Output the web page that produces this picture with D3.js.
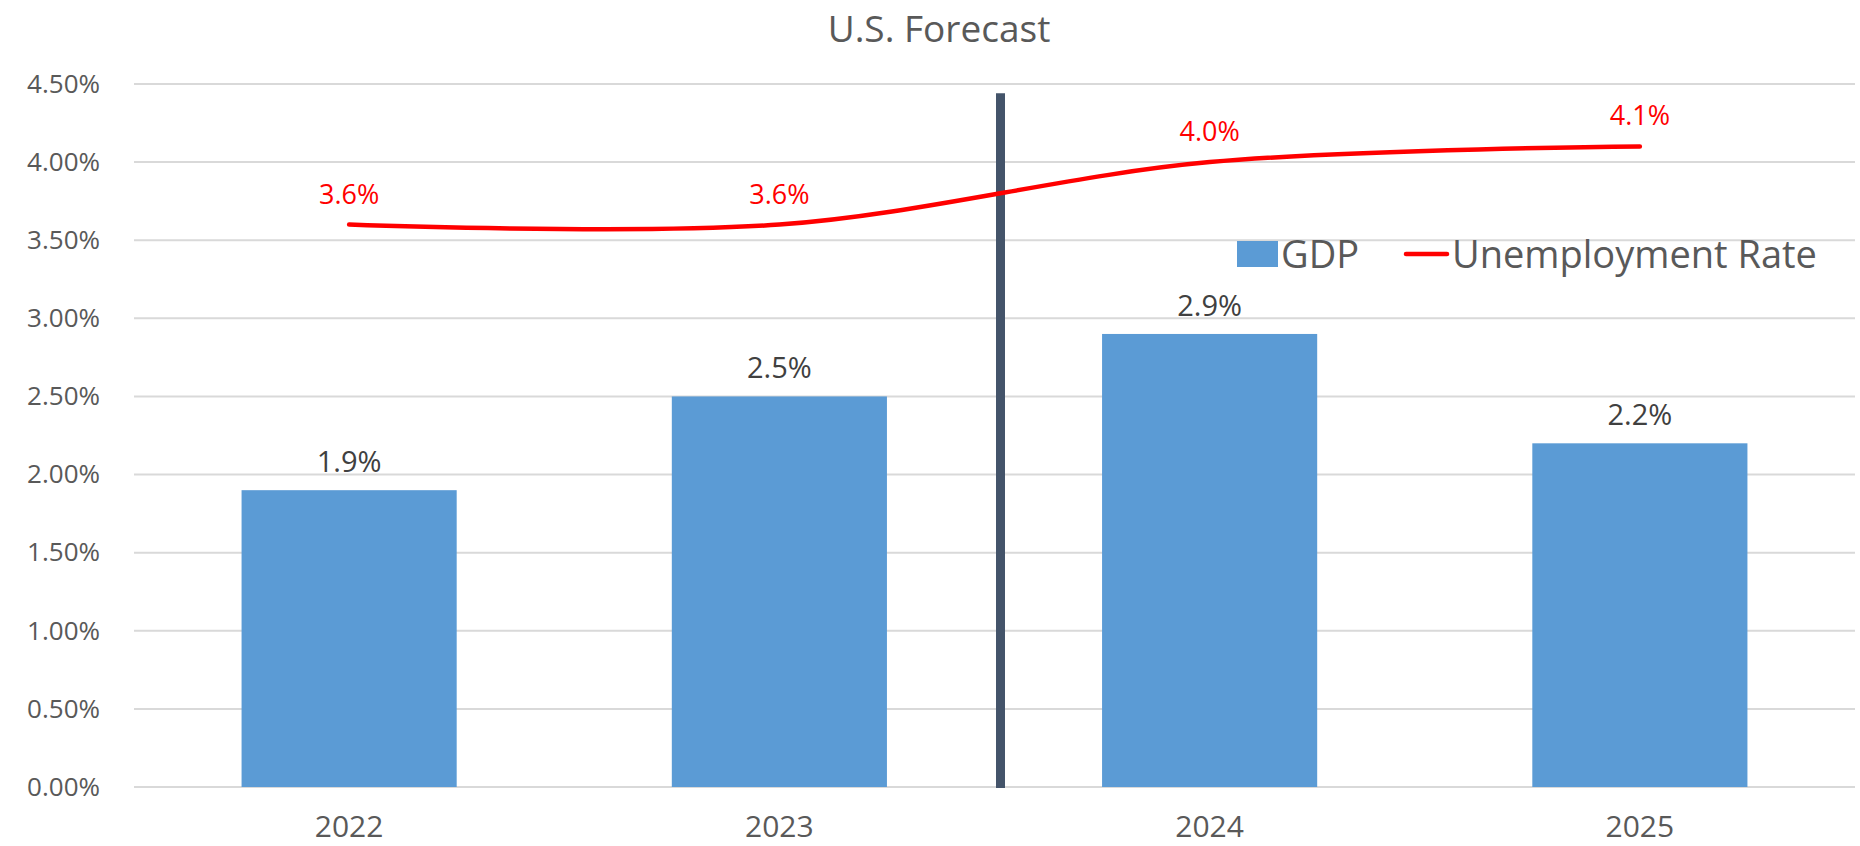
<!DOCTYPE html>
<html>
<head>
<meta charset="utf-8">
<script src="https://cdn.jsdelivr.net/npm/d3@7"></script>
<style>
  body { margin: 0; background: #ffffff; }
  svg { display: block; font-family: "Open Sans", "Noto Sans", sans-serif; }
</style>
</head>
<body>
<div id="chart"></div>
<script>
// Data
var years = ["2022", "2023", "2024", "2025"];
var gdp = [1.9, 2.5, 2.9, 2.2];
var unemployment = [3.6, 3.6, 4.0, 4.1];
var yTicks = [0, 0.5, 1, 1.5, 2, 2.5, 3, 3.5, 4, 4.5];
var legendLabels = ["GDP", "Unemployment Rate"];

var W = 1860, H = 846;
var plot = { left: 134, right: 1855, top: 84, bottom: 787 };

var svg = d3.select("#chart").append("svg")
    .attr("width", W)
    .attr("height", H);

// scales
var xScale = d3.scaleBand()
    .domain(years)
    .range([plot.left, plot.right])
    .paddingInner(0.5)
    .paddingOuter(0.25);

var xBand = d3.scaleBand().domain(years).range([plot.left, plot.right]);

var yScale = d3.scaleLinear()
    .domain([0, 4.5])
    .range([plot.bottom, plot.top]);

// title
svg.append("text")
    .attr("x", 939)
    .attr("y", 42)
    .attr("text-anchor", "middle")
    .style("font-size", "37px")
    .style("fill", "#595959")
    .text("U.S. Forecast");

// gridlines
svg.append("g")
    .selectAll("line")
    .data(yTicks)
    .enter()
    .append("line")
    .attr("x1", plot.left)
    .attr("x2", plot.right)
    .attr("y1", function(d) { return yScale(d); })
    .attr("y2", function(d) { return yScale(d); })
    .attr("stroke", "#d9d9d9")
    .attr("stroke-width", 2);

// y axis labels
var yAxis = svg.append("g")
    .attr("transform", "translate(" + (plot.left - 34) + ",0)")
    .call(d3.axisLeft(yScale)
        .tickValues(yTicks)
        .tickSize(0)
        .tickPadding(0)
        .tickFormat(function(d) { return d3.format(".2f")(d) + "%"; }));
yAxis.select(".domain").remove();
yAxis.selectAll("text")
    .style("font-size", "26px")
    .style("font-family", "'Open Sans', 'Noto Sans', sans-serif")
    .style("fill", "#595959");

// x axis labels
var xAxis = svg.append("g")
    .attr("transform", "translate(0," + plot.bottom + ")")
    .call(d3.axisBottom(xScale).tickSize(0).tickPadding(0));
xAxis.select(".domain").remove();
xAxis.selectAll("text")
    .attr("y", 50)
    .attr("dy", 0)
    .style("font-size", "30px")
    .style("font-family", "'Open Sans', 'Noto Sans', sans-serif")
    .style("fill", "#595959");

// bars
svg.append("g")
    .selectAll("rect")
    .data(gdp)
    .enter()
    .append("rect")
    .attr("x", function(d, i) { return xScale(years[i]); })
    .attr("y", function(d) { return yScale(d); })
    .attr("width", xScale.bandwidth())
    .attr("height", function(d) { return yScale(0) - yScale(d); })
    .attr("fill", "#5b9bd5");

// bar labels
svg.append("g")
    .selectAll("text")
    .data(gdp)
    .enter()
    .append("text")
    .attr("x", function(d, i) { return xScale(years[i]) + xScale.bandwidth() / 2; })
    .attr("y", function(d) { return yScale(d) - 18; })
    .attr("text-anchor", "middle")
    .style("font-size", "29px")
    .style("fill", "#404040")
    .text(function(d) { return d3.format(".1f")(d) + "%"; });

// forecast divider between 2023 and 2024
var dividerX = xBand("2024") + 6;
svg.append("line")
    .attr("x1", dividerX)
    .attr("x2", dividerX)
    .attr("y1", yScale(4.44))
    .attr("y2", yScale(0) + 1)
    .attr("stroke", "#44546a")
    .attr("stroke-width", 9);

// unemployment line (smoothed like Excel)
var line = d3.line()
    .x(function(d, i) { return xScale(years[i]) + xScale.bandwidth() / 2; })
    .y(function(d) { return yScale(d); })
    .curve(d3.curveCardinal.tension(0));

svg.append("path")
    .datum(unemployment)
    .attr("fill", "none")
    .attr("stroke", "#ff0000")
    .attr("stroke-width", 4.5)
    .attr("stroke-linecap", "round")
    .attr("d", line);

svg.append("g")
    .selectAll("text")
    .data(unemployment)
    .enter()
    .append("text")
    .attr("x", function(d, i) { return xScale(years[i]) + xScale.bandwidth() / 2; })
    .attr("y", function(d) { return yScale(d) - 21; })
    .attr("text-anchor", "middle")
    .style("font-size", "27px")
    .style("fill", "#ff0000")
    .text(function(d) { return d3.format(".1f")(d) + "%"; });

// legend
var legend = svg.append("g").attr("transform", "translate(1237,241)");
legend.append("rect")
    .attr("x", 0).attr("y", 0)
    .attr("width", 41).attr("height", 26)
    .attr("fill", "#5b9bd5");
legend.append("text")
    .attr("x", 44).attr("y", 27)
    .style("font-size", "38px")
    .style("fill", "#595959")
    .text(legendLabels[0]);
legend.append("line")
    .attr("x1", 169).attr("x2", 210)
    .attr("y1", 13).attr("y2", 13)
    .attr("stroke", "#ff0000")
    .attr("stroke-width", 4.5)
    .attr("stroke-linecap", "round");
legend.append("text")
    .attr("x", 215).attr("y", 27)
    .style("font-size", "38px")
    .style("fill", "#595959")
    .text(legendLabels[1]);
</script>
</body>
</html>
